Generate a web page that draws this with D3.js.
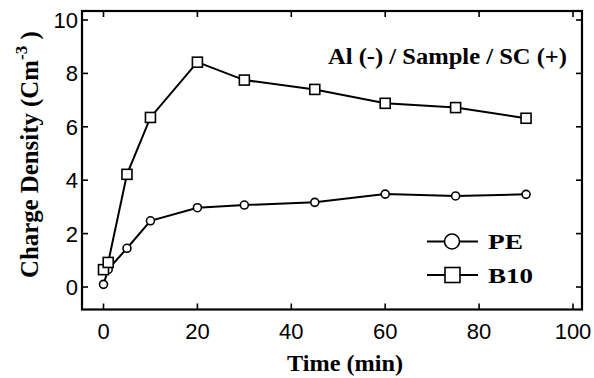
<!DOCTYPE html>
<html>
<head>
<meta charset="utf-8">
<script src="https://cdn.jsdelivr.net/npm/d3@7"></script>
<style>
  body { margin: 0; background: #fff; }
  svg text { fill: #000; }
</style>
</head>
<body>
<svg id="chart"></svg>
<script>
// data
const times = [0, 1, 5, 10, 20, 30, 45, 60, 75, 90];
const pe = [0.1, 0.66, 1.45, 2.48, 2.97, 3.07, 3.17, 3.48, 3.41, 3.47];
const b10 = [0.65, 0.92, 4.22, 6.35, 8.42, 7.75, 7.4, 6.88, 6.72, 6.32];
const xTicks = [0, 20, 40, 60, 80, 100];
const yTicks = [0, 2, 4, 6, 8, 10];

const width = 594;
const height = 378;
const sans = "'Liberation Sans', Arial, sans-serif";
const serif = "'Liberation Serif', 'Times New Roman', serif";

const svg = d3.select("#chart")
    .attr("width", width)
    .attr("height", height);

// scales, frame spans 82..582 x and 11..309.5 y
const xScale = d3.scaleLinear().domain([0, 100]).range([103.5, 573]);
const yScale = d3.scaleLinear().domain([0, 10]).range([287, 20]);
const frame = { left: 82, right: 582, top: 11, bottom: 309.5 };

// ticks inside the frame on all four sides
const tickLen = 6;
const ticks = svg.append("g").attr("stroke", "#000").attr("stroke-width", 1.6);
xTicks.forEach(t => {
    const x = xScale(t);
    ticks.append("line").attr("x1", x).attr("x2", x).attr("y1", frame.bottom).attr("y2", frame.bottom - tickLen);
    ticks.append("line").attr("x1", x).attr("x2", x).attr("y1", frame.top).attr("y2", frame.top + tickLen);
});
yTicks.forEach(t => {
    const y = yScale(t);
    ticks.append("line").attr("x1", frame.left).attr("x2", frame.left + tickLen).attr("y1", y).attr("y2", y);
    ticks.append("line").attr("x1", frame.right).attr("x2", frame.right - tickLen).attr("y1", y).attr("y2", y);
});

svg.append("rect")
    .attr("x", frame.left)
    .attr("y", frame.top)
    .attr("width", frame.right - frame.left)
    .attr("height", frame.bottom - frame.top)
    .attr("fill", "none")
    .attr("stroke", "#000")
    .attr("stroke-width", 2.2);

// tick labels
svg.append("g").selectAll("text")
    .data(xTicks)
    .enter()
    .append("text")
    .attr("font-family", sans)
    .attr("font-size", 22)
    .attr("x", d => xScale(d))
    .attr("y", 339)
    .attr("text-anchor", "middle")
    .text(d => d);

svg.append("g").selectAll("text")
    .data(yTicks)
    .enter()
    .append("text")
    .attr("font-family", sans)
    .attr("font-size", 22)
    .attr("x", 78)
    .attr("y", d => yScale(d) + 8)
    .attr("text-anchor", "end")
    .text(d => d);

// axis titles
svg.append("text")
    .attr("font-family", serif)
    .attr("font-weight", "bold")
    .attr("font-size", 24)
    .attr("x", 287)
    .attr("y", 371)
    .attr("textLength", 116)
    .attr("lengthAdjust", "spacingAndGlyphs")
    .text("Time (min)");

const yTitle = svg.append("text")
    .attr("font-family", serif)
    .attr("font-weight", "bold")
    .attr("font-size", 25)
    .attr("transform", "translate(38,278) rotate(-90)");
yTitle.append("tspan").attr("textLength", 218).attr("lengthAdjust", "spacingAndGlyphs").text("Charge Density (Cm");
yTitle.append("tspan").attr("dy", -11).attr("font-size", 17).text("-3");
yTitle.append("tspan").attr("dy", 11).text(" )");

svg.append("text")
    .attr("font-family", serif)
    .attr("font-weight", "bold")
    .attr("font-size", 23)
    .attr("x", 328)
    .attr("y", 64)
    .attr("textLength", 239)
    .attr("lengthAdjust", "spacingAndGlyphs")
    .text("Al (-) / Sample / SC (+)");

// series
const line = d3.line()
    .x(d => xScale(d[0]))
    .y(d => yScale(d[1]));

[pe, b10].forEach(vals => {
    svg.append("path")
        .datum(times.map((t, i) => [t, vals[i]]))
        .attr("d", line)
        .attr("fill", "none")
        .attr("stroke", "#000")
        .attr("stroke-width", 2);
});

// markers: circles first so squares sit on top
svg.selectAll("circle.pe")
    .data(times.map((t, i) => [t, pe[i]]))
    .enter()
    .append("circle")
    .attr("class", "pe")
    .attr("cx", d => xScale(d[0]))
    .attr("cy", d => yScale(d[1]))
    .attr("r", 4)
    .attr("fill", "#fff")
    .attr("stroke", "#000")
    .attr("stroke-width", 1.6);

svg.selectAll("rect.b10")
    .data(times.map((t, i) => [t, b10[i]]))
    .enter()
    .append("rect")
    .attr("class", "b10")
    .attr("x", d => xScale(d[0]) - 5)
    .attr("y", d => yScale(d[1]) - 5)
    .attr("width", 10)
    .attr("height", 10)
    .attr("fill", "#fff")
    .attr("stroke", "#000")
    .attr("stroke-width", 1.6);

// legend
const legend = svg.append("g");
const legendRows = [
    { name: "PE", y: 241.5, shape: "circle", len: 35 },
    { name: "B10", y: 275, shape: "square", len: 45 }
];
legendRows.forEach(r => {
    legend.append("line")
        .attr("x1", 427).attr("x2", 478)
        .attr("y1", r.y).attr("y2", r.y)
        .attr("stroke", "#000").attr("stroke-width", 2);
    if (r.shape === "circle") {
        legend.append("circle")
            .attr("cx", 452).attr("cy", r.y).attr("r", 7.5)
            .attr("fill", "#fff").attr("stroke", "#000").attr("stroke-width", 1.6);
    } else {
        legend.append("rect")
            .attr("x", 445).attr("y", r.y - 7.5).attr("width", 15).attr("height", 15)
            .attr("fill", "#fff").attr("stroke", "#000").attr("stroke-width", 1.6);
    }
    legend.append("text")
        .attr("font-family", serif)
        .attr("font-weight", "bold")
        .attr("font-size", 22)
        .attr("x", 488)
        .attr("y", r.y + 7.5)
        .attr("textLength", r.len)
        .attr("lengthAdjust", "spacingAndGlyphs")
        .text(r.name);
});
</script>
</body>
</html>
